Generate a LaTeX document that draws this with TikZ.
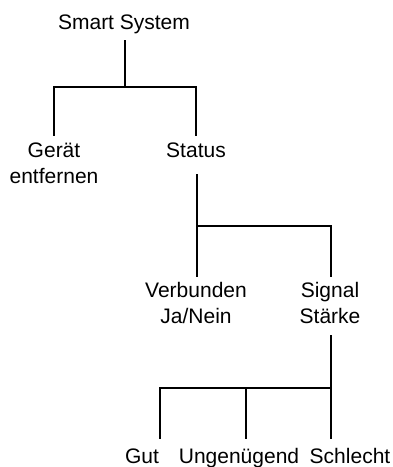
\documentclass[tikz,border=0pt]{standalone}
\usepackage{fontspec}
\setmainfont{Liberation Sans}
\usetikzlibrary{calc}
\begin{document}
\begin{tikzpicture}[x=1bp,y=-1bp,
  lbl/.style={font=\fontsize{21bp}{26bp}\selectfont, inner sep=0pt, align=center, anchor=base},
  conn/.style={line width=2.2bp, line cap=rect}]
\useasboundingbox (0,0) rectangle (392,467);
\node[lbl] (root) at (124,30) {Smart System};
\node[lbl] (geraet) at (54,184) {Gerät\\entfernen};
\node[lbl] (status) at (196,158) {Status};
\node[lbl] (verb) at (196,323) {Verbunden\\Ja/Nein};
\node[lbl] (signal) at (330,323) {Signal\\Stärke};
\node[lbl] (gut) at (142,463) {Gut};
\node[lbl] (ung) at (239,463) {Ungenügend};
\node[lbl] (schl) at (350,463) {Schlecht};
% junctions
\coordinate (j1) at (125,87);
\coordinate (j2) at (197,226);
\coordinate (j3) at (331,388);
% root -> Gerät, Status
\draw[conn] (root.base -| j1) ++(0,11) -- (j1);
\draw[conn] ($(geraet.base)+(0,-49)$) |- (j1) -| ($(status.base)+(0,-23)$);
% Status -> Verbunden, Signal
\draw[conn] (status.base -| j2) ++(0,17) -- (j2);
\draw[conn] ($(verb.base -| j2)+(0,-47)$) |- (j2) -| ($(signal.base -| j3)+(0,-47)$);
% Signal Stärke -> Gut, Ungenügend, Schlecht
\draw[conn] ($(signal.base -| j3)+(0,13)$) -- (j3);
\coordinate (dg) at (160,438);
\coordinate (du) at (246,438);
\coordinate (ds) at (331,438);
\draw[conn] (dg) |- (j3) -- (ds);
\draw[conn] (du) -- (du |- j3);
\end{tikzpicture}
\end{document}
